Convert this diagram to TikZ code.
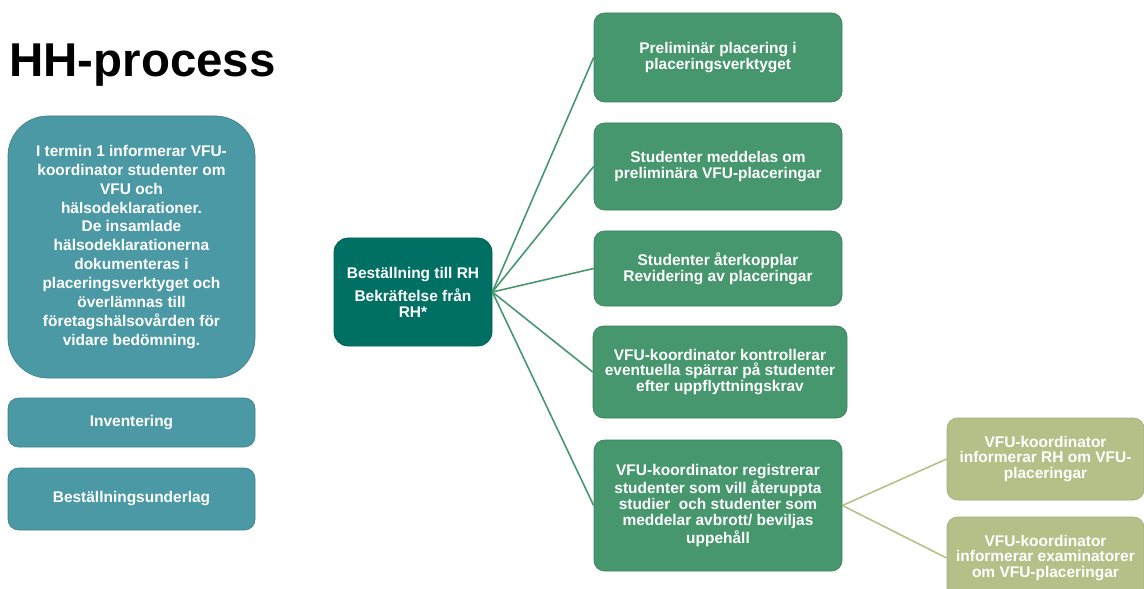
\documentclass[tikz,border=0pt]{standalone}
\usepackage{fontspec}
\setmainfont{Liberation Sans}
\usetikzlibrary{positioning,calc}
\definecolor{HHTeal}{RGB}{75,153,164}
\definecolor{HHDark}{RGB}{0,112,100}
\definecolor{HHGreen}{RGB}{70,150,110}
\definecolor{HHOlive}{RGB}{180,192,136}
\tikzset{
	box/.style={rectangle,rounded corners=6pt,text=white,align=center,inner sep=2pt,
		font=\bfseries\fontsize{8.8}{9}\selectfont},
	info/.style={box,fill=HHTeal,draw=HHTeal!85!black,line width=0.4pt,minimum width=4.94cm},
	order/.style={box,fill=HHDark,draw=HHDark!85!black,line width=0.4pt,rounded corners=8pt,
		minimum width=3.16cm,minimum height=2.16cm},
	task/.style={box,fill=HHGreen,draw=HHGreen!85!black,line width=0.4pt,minimum width=4.96cm},
	notify/.style={box,fill=HHOlive,draw=HHOlive!90!black,line width=0.4pt,minimum width=3.94cm,
		minimum height=1.64cm},
	link/.style={draw=HHGreen,line width=0.9pt},
	sublink/.style={draw=HHOlive,line width=0.9pt},
}

\begin{document}
\begin{tikzpicture}
	\useasboundingbox (0,0) rectangle (22.88,-11.78);
	\clip (0,0) rectangle (22.88,-11.78);
	\node[anchor=base west,inner sep=0pt,font=\bfseries\fontsize{27}{30}\selectfont] (title) at (0.18,-1.54) {HH-process};
	% left column
	\node[info,rounded corners=0.8cm,minimum height=5.24cm,font=\bfseries\fontsize{8.8}{10.8}\selectfont] (intro) at (2.63,-4.94)
		{I termin 1 informerar VFU-\\koordinator studenter om\\VFU och\\hälsodeklarationer.\\De insamlade\\hälsodeklarationerna\\dokumenteras i\\placeringsverktyget och\\överlämnas till\\företagshälsovården för\\vidare bedömning.};
	\node[info,minimum height=0.98cm] (invent) at (2.63,-8.45) {Inventering};
	\node[info,minimum height=1.24cm] (underlag) at (2.63,-9.98) {Beställningsunderlag};
	% center
	\node[order] (order) at (8.26,-5.84) {Beställning till RH\\[3pt]Bekräftelse från\\RH*};
	% right column
	\node[task,minimum height=1.78cm] (p1) at (14.36,-1.15) {Preliminär placering i\\placeringsverktyget};
	\node[task,minimum height=1.74cm] (p2) at (14.36,-3.33) {Studenter meddelas om\\preliminära VFU-placeringar};
	\node[task,minimum height=1.50cm] (p3) at (14.36,-5.37) {Studenter återkopplar\\Revidering av placeringar};
	\node[task,minimum width=5.08cm,minimum height=1.84cm] (p4) at (14.40,-7.44) {VFU-koordinator kontrollerar\\eventuella spärrar på studenter\\efter uppflyttningskrav};
	\node[task,minimum height=2.62cm] (p5) at (14.36,-10.11) {VFU-koordinator registrerar\\studenter som vill återuppta\\studier\ \ och studenter som\\meddelar avbrott/ beviljas\\uppehåll};
	% far right
	\node[notify] (rh) at (20.91,-9.18) {VFU-koordinator\\informerar RH om VFU-\\placeringar};
	\node[notify] (exam) at (20.91,-11.16) {VFU-koordinator\\informerar examinatorer\\om VFU-placeringar};
	\foreach \p in {p1,p2,p3,p4,p5}
	\draw[link] (order.east) -- (\p.west);
	\foreach \p in {rh,exam}
	\draw[sublink] (p5.east) -- (\p.west);
\end{tikzpicture}
\end{document}
